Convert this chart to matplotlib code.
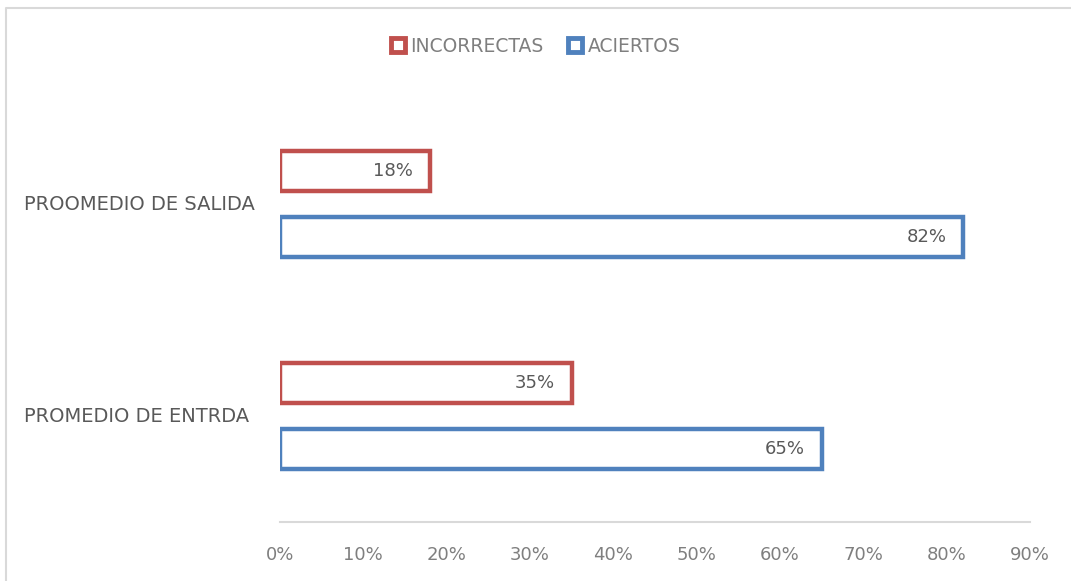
import matplotlib.pyplot as plt
import matplotlib.patches as mpatches
from matplotlib.lines import Line2D
from matplotlib.ticker import FuncFormatter
from matplotlib.transforms import blended_transform_factory

categories = ['PROMEDIO DE ENTRDA', 'PROOMEDIO DE SALIDA']
incorrectas = [0.35, 0.18]
aciertos = [0.65, 0.82]
x_ticks = [0, 0.1, 0.2, 0.3, 0.4, 0.5, 0.6, 0.7, 0.8, 0.9]

RED = '#C0504D'
BLUE = '#4F81BD'
TXT = '#595959'
TICK = '#7F7F7F'

fig = plt.figure(figsize=(10.71, 5.81), dpi=100)
# light border, only top/left visible in the reference
fig.lines.append(Line2D([6/1071, 6/1071, 1], [0, 1 - 8/581, 1 - 8/581], transform=fig.transFigure,
                        color='#D9D9D9', linewidth=1.5))

ax = fig.add_axes([280/1071, 1 - 522/581, 750/1071, 424/581])

y = list(range(len(categories)))
off = 0.156
h = 0.19
b1 = ax.barh([v + off for v in y], incorrectas, height=h, color='white', edgecolor=RED,
             linewidth=3.2, label='INCORRECTAS')
b2 = ax.barh([v - off for v in y], aciertos, height=h, color='white', edgecolor=BLUE,
             linewidth=3.2, label='ACIERTOS')

# data labels inside the bar end
for bars, vals in ((b1, incorrectas), (b2, aciertos)):
    for r, v in zip(bars, vals):
        ax.text(v - 0.02, r.get_y() + r.get_height() / 2, f'{v:.0%}', ha='right', va='center',
                fontsize=13, color=TXT)

# category labels, left aligned near the figure edge
tr = blended_transform_factory(fig.transFigure, ax.transData)
for yi, name in zip(y, categories):
    ax.text(24/1071, yi, name, transform=tr, fontsize=14, color=TXT, ha='left', va='center')

ax.set_xlim(0, 0.9)
ax.set_ylim(-0.5, 1.5)
ax.set_xticks(x_ticks)
ax.xaxis.set_major_formatter(FuncFormatter(lambda v, p: f'{v:.0%}'))
ax.set_yticks([])
ax.tick_params(axis='x', length=0, labelsize=13, labelcolor=TICK, pad=17)
for s in ('top', 'right', 'left'):
    ax.spines[s].set_visible(False)
ax.spines['bottom'].set_color('#D9D9D9')
ax.spines['bottom'].set_linewidth(1.5)

handles = [mpatches.Patch(facecolor='white', edgecolor=RED, linewidth=3.5, label='INCORRECTAS'),
           mpatches.Patch(facecolor='white', edgecolor=BLUE, linewidth=3.5, label='ACIERTOS')]
fig.legend(handles=handles, loc='center', bbox_to_anchor=(0.5, 1 - 46/581), ncol=2, frameon=False,
           fontsize=13.5, labelcolor=TICK, handlelength=0.75, handleheight=0.75, handletextpad=0.3,
           columnspacing=1.3)

fig.savefig('out.png', dpi=100)
